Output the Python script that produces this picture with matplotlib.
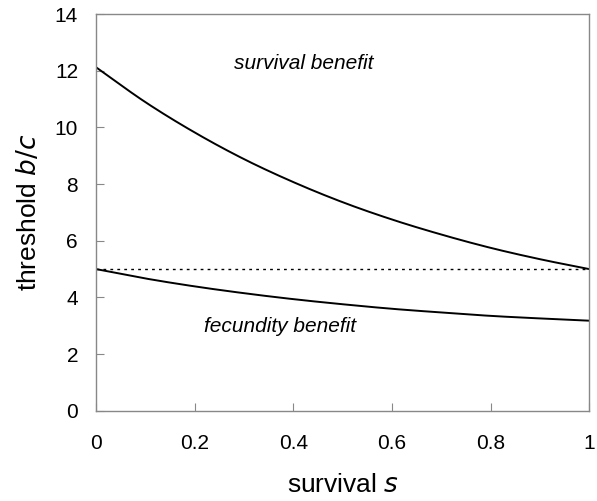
import numpy as np
import matplotlib.pyplot as plt

plt.rcParams['font.family'] = ['Liberation Sans', 'DejaVu Sans']

# survival s and threshold b/c
s = [0.0, 0.1, 0.2, 0.3, 0.4, 0.5, 0.6, 0.7, 0.8, 0.9, 1.0]
survival_benefit = [12.12, 10.89, 9.82, 8.88, 8.07, 7.36, 6.75, 6.22, 5.75, 5.35, 5.0]
fecundity_benefit = [5.0, 4.67, 4.39, 4.15, 3.94, 3.76, 3.60, 3.47, 3.35, 3.26, 3.18]
baseline = 5.0

xticks = [0, 0.2, 0.4, 0.6, 0.8, 1]
xticklabels = ['0', '0.2', '0.4', '0.6', '0.8', '1']
yticks = [0, 2, 4, 6, 8, 10, 12, 14]


def smooth(x, y, n=200):
    # cubic hermite through the read points so the curve has no kinks
    x = np.asarray(x, float)
    y = np.asarray(y, float)
    m = np.gradient(y, x)
    xs = np.linspace(x[0], x[-1], n)
    i = np.clip(np.searchsorted(x, xs) - 1, 0, len(x) - 2)
    h = x[i + 1] - x[i]
    t = (xs - x[i]) / h
    h00 = 2 * t**3 - 3 * t**2 + 1
    h10 = t**3 - 2 * t**2 + t
    h01 = -2 * t**3 + 3 * t**2
    h11 = t**3 - t**2
    return xs, h00 * y[i] + h10 * h * m[i] + h01 * y[i + 1] + h11 * h * m[i + 1]


fig = plt.figure(figsize=(5.97, 5.01), dpi=100)
ax = fig.add_axes([0.161, 0.180, 0.826, 0.792])

ax.plot(*smooth(s, survival_benefit), color='black', lw=1.4)
ax.plot(*smooth(s, fecundity_benefit), color='black', lw=1.4)
ax.axhline(baseline, color='black', lw=1.0, ls=(0, (2, 3)))

ax.set_xlim(0, 1)
ax.set_ylim(0, 14)
ax.set_xticks(xticks)
ax.set_xticklabels(xticklabels)
ax.set_yticks(yticks)
ax.tick_params(direction='in', length=6, width=0.8, color='#888888',
               labelsize=15)
ax.tick_params(axis='x', pad=17)
ax.tick_params(axis='y', pad=13)
for sp in ax.spines.values():
    sp.set_color('#888888')
    sp.set_linewidth(1.0)

ax.text(0.42, 12.25, 'survival benefit', style='italic', fontsize=15,
        ha='center', va='center')
ax.text(0.373, 2.99, 'fecundity benefit', style='italic', fontsize=15,
        ha='center', va='center')

ax.set_xlabel('survival $\\it{s}$', fontsize=19, labelpad=14)
ax.set_ylabel('threshold $\\it{b/c}$', fontsize=19, labelpad=10)

fig.savefig('out.png', dpi=100)
